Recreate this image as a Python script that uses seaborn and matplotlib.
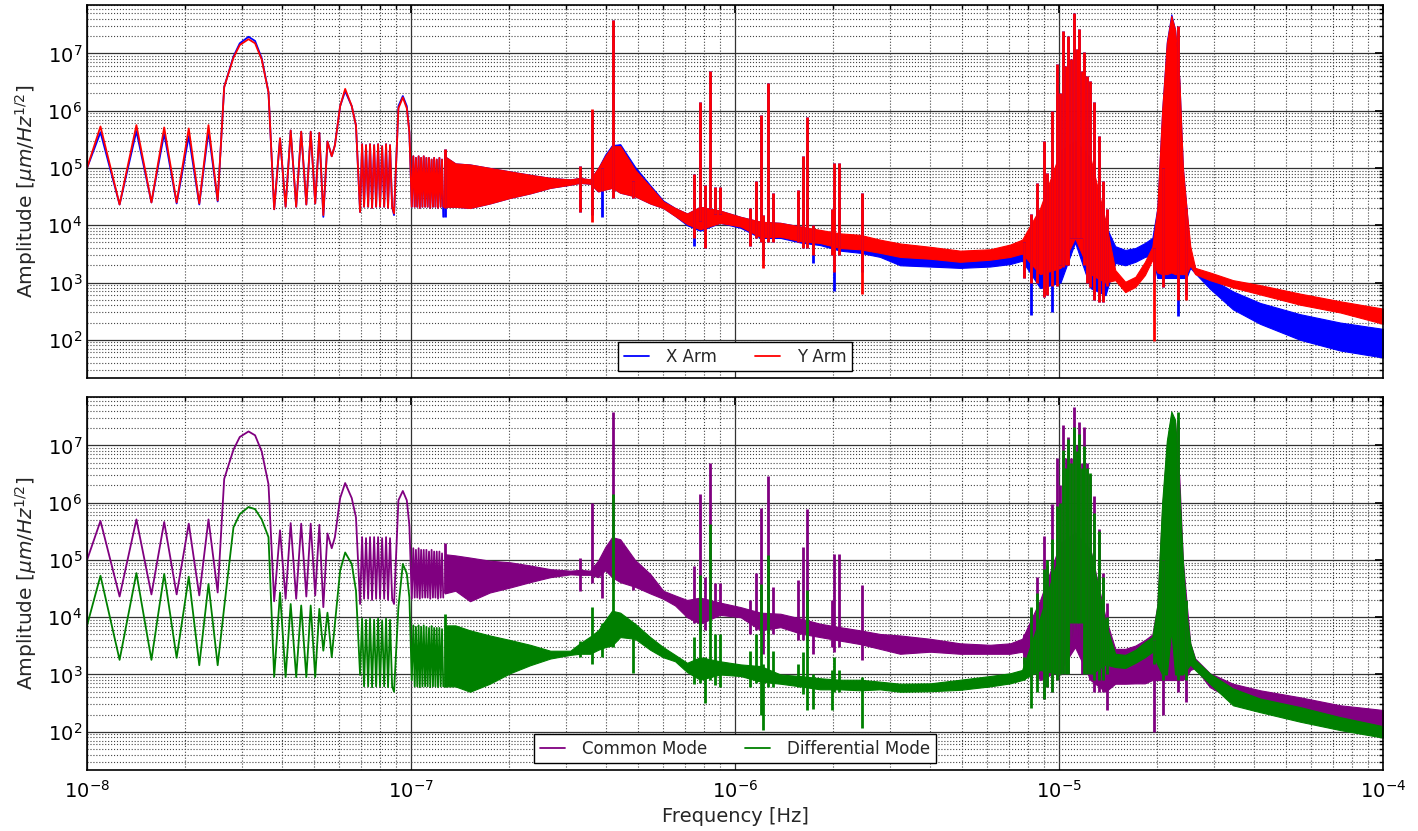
import numpy as np
import matplotlib
matplotlib.use("Agg")
import matplotlib.pyplot as plt
import seaborn as sns
from matplotlib.ticker import LogLocator, NullFormatter, FixedLocator

# ---- low-frequency part: clean line traces, shared frequency grid [Hz]
f_low = [1.00e-8, 1.10e-8, 1.26e-8, 1.42e-8, 1.58e-8, 1.73e-8, 1.89e-8, 2.06e-8, 2.22e-8, 2.37e-8,
         2.53e-8, 2.65e-8, 2.83e-8, 2.96e-8, 3.15e-8, 3.30e-8, 3.46e-8, 3.63e-8, 3.78e-8, 3.94e-8,
         4.10e-8, 4.25e-8, 4.42e-8, 4.58e-8, 4.75e-8, 4.90e-8, 5.06e-8, 5.21e-8, 5.36e-8, 5.52e-8,
         5.69e-8, 5.82e-8, 6.04e-8, 6.26e-8, 6.56e-8, 6.76e-8, 6.96e-8, 7.06e-8, 7.16e-8, 7.26e-8,
         7.37e-8, 7.47e-8, 7.58e-8, 7.69e-8, 7.80e-8, 7.91e-8, 8.02e-8, 8.14e-8, 8.26e-8, 8.37e-8,
         8.49e-8, 8.61e-8, 8.74e-8, 8.86e-8, 9.14e-8, 9.43e-8, 9.70e-8, 9.88e-8, 1.005e-7, 1.016e-7,
         1.026e-7, 1.035e-7, 1.045e-7, 1.055e-7, 1.064e-7, 1.074e-7, 1.084e-7, 1.094e-7, 1.105e-7, 1.115e-7,
         1.125e-7, 1.136e-7, 1.146e-7, 1.157e-7, 1.168e-7, 1.178e-7, 1.189e-7, 1.200e-7, 1.211e-7, 1.223e-7,
         1.234e-7, 1.246e-7, 1.257e-7]

xarm_low = [1.0e5, 4.2e5, 2.3e4, 4.4e5, 2.5e4, 4.0e5, 2.4e4, 3.6e5, 2.3e4, 4.4e5,
            2.6e4, 2.6e6, 8.8e6, 1.5e7, 1.95e7, 1.65e7, 8.2e6, 2.1e6, 1.9e4, 3.3e5,
            2.1e4, 4.5e5, 2.1e4, 4.3e5, 2.3e4, 4.3e5, 2.4e4, 4.1e5, 1.4e4, 2.9e5,
            1.6e5, 2.5e5, 1.2e6, 2.2e6, 1.2e6, 5.5e5, 1.7e4, 2.6e5, 2.1e4, 2.5e5,
            2.1e4, 2.6e5, 2.0e4, 2.5e5, 2.1e4, 2.6e5, 2.1e4, 2.4e5, 2.1e4, 2.6e5,
            2.0e4, 2.5e5, 2.1e4, 1.5e4, 1.2e6, 1.8e6, 1.2e6, 4.2e5, 2.1e4, 1.6e5,
            2.1e4, 1.5e5, 2.1e4, 1.6e5, 2.0e4, 1.5e5, 2.1e4, 1.6e5, 2.1e4, 1.5e5,
            2.1e4, 1.5e5, 2.0e4, 1.4e5, 2.1e4, 1.5e5, 2.1e4, 1.4e5, 2.0e4, 1.5e5,
            2.1e4, 1.4e5, 1.4e4]
yarm_low = [1.0e5, 5.3e5, 2.3e4, 5.6e5, 2.5e4, 5.1e5, 2.5e4, 4.9e5, 2.4e4, 5.6e5,
            2.7e4, 2.6e6, 8.4e6, 1.4e7, 1.77e7, 1.5e7, 7.8e6, 2.1e6, 1.9e4, 3.3e5,
            2.1e4, 4.5e5, 2.1e4, 4.3e5, 2.3e4, 4.3e5, 2.4e4, 4.1e5, 1.5e4, 2.9e5,
            1.6e5, 2.5e5, 1.2e6, 2.4e6, 1.2e6, 5.5e5, 1.7e4, 2.6e5, 2.1e4, 2.5e5,
            2.1e4, 2.6e5, 2.0e4, 2.5e5, 2.1e4, 2.6e5, 2.1e4, 2.4e5, 2.1e4, 2.6e5,
            2.0e4, 2.5e5, 2.1e4, 1.6e4, 1.1e6, 1.7e6, 1.1e6, 4.2e5, 2.1e4, 1.6e5,
            2.1e4, 1.5e5, 2.1e4, 1.6e5, 2.0e4, 1.5e5, 2.1e4, 1.6e5, 2.1e4, 1.5e5,
            2.1e4, 1.5e5, 2.0e4, 1.4e5, 2.1e4, 1.5e5, 2.1e4, 1.4e5, 2.0e4, 1.5e5,
            2.1e4, 1.4e5, 2.1e4]
cm_low = [1.0e5, 4.8e5, 2.3e4, 5.1e5, 2.5e4, 4.6e5, 2.5e4, 4.3e5, 2.4e4, 5.1e5,
          2.7e4, 2.6e6, 8.4e6, 1.4e7, 1.75e7, 1.5e7, 7.8e6, 2.1e6, 1.9e4, 3.3e5,
          2.1e4, 4.4e5, 2.1e4, 4.3e5, 2.3e4, 4.3e5, 2.4e4, 4.1e5, 1.5e4, 2.9e5,
          1.6e5, 2.5e5, 1.2e6, 2.2e6, 1.2e6, 5.5e5, 1.7e4, 2.5e5, 2.1e4, 2.4e5,
          2.1e4, 2.5e5, 2.0e4, 2.5e5, 2.1e4, 2.5e5, 2.1e4, 2.4e5, 2.1e4, 2.5e5,
          2.0e4, 2.4e5, 2.1e4, 1.7e4, 1.1e6, 1.6e6, 1.1e6, 4.0e5, 2.1e4, 1.6e5,
          2.2e4, 1.5e5, 2.2e4, 1.6e5, 2.1e4, 1.5e5, 2.2e4, 1.5e5, 2.2e4, 1.5e5,
          2.2e4, 1.4e5, 2.1e4, 1.5e5, 2.2e4, 1.4e5, 2.2e4, 1.4e5, 2.1e4, 1.4e5,
          2.2e4, 1.3e5, 2.2e4]
dm_low = [7.2e3, 5.3e4, 1.8e3, 5.9e4, 1.8e3, 5.7e4, 1.95e3, 5.1e4, 1.45e3, 3.8e4,
          1.45e3, 1.5e4, 3.7e5, 6.3e5, 8.4e5, 7.7e5, 5.1e5, 2.5e5, 9.1e2, 2.7e4,
          9.0e2, 1.7e4, 9.0e2, 1.6e4, 9.0e2, 1.6e4, 9.0e2, 1.4e4, 2.6e3, 1.2e4,
          2.0e3, 7.7e3, 6.5e4, 1.35e5, 8.5e4, 2.9e4, 9.8e2, 9.4e3, 6.2e2, 9.0e3,
          6.2e2, 9.4e3, 6.0e2, 9.0e3, 6.2e2, 9.4e3, 6.2e2, 8.8e3, 6.2e2, 9.4e3,
          6.0e2, 9.0e3, 6.2e2, 5.0e2, 1.5e4, 8.5e4, 5.8e4, 2.2e4, 8.0e2, 7.2e3,
          6.2e2, 6.8e3, 6.2e2, 7.2e3, 6.0e2, 6.8e3, 6.2e2, 7.2e3, 6.2e2, 6.8e3,
          6.2e2, 6.5e3, 6.0e2, 7.0e3, 6.2e2, 6.5e3, 6.2e2, 6.5e3, 6.0e2, 6.5e3,
          6.2e2, 6.2e3, 6.2e2]

# ---- dense part: upper / lower envelope of the oscillating spectrum
f_band = [1.27e-7, 1.37e-7, 1.52e-7, 1.75e-7, 2.02e-7, 2.33e-7, 2.69e-7, 3.10e-7, 3.32e-7, 3.57e-7,
          3.78e-7, 3.97e-7, 4.17e-7, 4.42e-7, 4.91e-7, 5.47e-7, 6.00e-7, 6.53e-7, 7.11e-7, 7.80e-7,
          8.99e-7, 1.04e-6, 1.20e-6, 1.38e-6, 1.59e-6, 1.83e-6, 2.11e-6, 2.43e-6, 2.80e-6, 3.23e-6,
          4.00e-6, 4.95e-6, 6.12e-6, 7.06e-6, 7.69e-6, 8.74e-6, 1.01e-5, 1.12e-5, 1.25e-5, 1.39e-5,
          1.49e-5, 1.60e-5, 1.72e-5, 1.84e-5, 1.94e-5, 2.01e-5, 2.08e-5, 2.15e-5, 2.22e-5, 2.28e-5,
          2.35e-5, 2.41e-5, 2.47e-5, 2.54e-5, 2.63e-5, 2.92e-5, 3.44e-5, 4.17e-5, 5.54e-5, 7.37e-5,
          1.00e-4]

xarm_hi = [1.6e5, 1.2e5, 1.15e5, 1.0e5, 8.7e4, 7.6e4, 6.7e4, 6.3e4, 6.7e4, 6.3e4,
           1.0e5, 1.7e5, 2.5e5, 2.6e5, 1.05e5, 5.0e4, 2.7e4, 2.0e4, 1.6e4, 2.1e4,
           1.8e4, 1.4e4, 1.15e4, 1.1e4, 9.5e3, 8.0e3, 6.8e3, 6.4e3, 5.3e3, 4.0e3,
           3.6e3, 2.8e3, 2.9e3, 3.4e3, 4.0e3, 1.8e4, 1.6e5, 2.5e5, 1.2e5, 1.0e4,
           4.3e3, 3.7e3, 4.0e3, 4.9e3, 6.0e3, 2.0e4, 1.0e6, 1.6e7, 4.8e7, 2.6e7,
           3.5e6, 1.0e5, 2.1e4, 3.0e3, 1.8e3, 1.2e3, 7.0e2, 4.4e2, 2.8e2, 2.0e2,
           1.55e2]
xarm_lo = [2.1e4, 2.1e4, 2.0e4, 2.4e4, 3.0e4, 3.6e4, 4.5e4, 5.1e4, 5.5e4, 5.3e4,
           3.9e4, 4.2e4, 4.5e4, 3.7e4, 3.2e4, 2.4e4, 2.0e4, 1.45e4, 1.0e4, 8.0e3,
           1.1e4, 9.0e3, 6.0e3, 6.0e3, 5.0e3, 4.5e3, 3.6e3, 3.3e3, 2.8e3, 2.0e3,
           1.9e3, 1.8e3, 1.9e3, 2.1e3, 2.4e3, 8.0e2, 1.0e3, 5.0e3, 8.0e2, 6.0e2,
           2.2e3, 2.0e3, 2.3e3, 2.8e3, 3.0e3, 1.2e3, 1.2e3, 1.2e3, 1.2e3, 1.2e3,
           1.2e3, 1.2e3, 1.2e3, 1.8e3, 1.45e3, 7.8e2, 3.4e2, 1.9e2, 1.0e2, 6.5e1,
           4.9e1]
yarm_hi = [1.6e5, 1.2e5, 1.15e5, 1.0e5, 8.7e4, 7.6e4, 6.7e4, 6.3e4, 6.7e4, 6.3e4,
           1.0e5, 1.6e5, 2.4e5, 2.4e5, 9.3e4, 4.7e4, 2.6e4, 2.0e4, 1.6e4, 2.1e4,
           1.8e4, 1.4e4, 1.15e4, 1.1e4, 9.5e3, 8.3e3, 7.2e3, 6.8e3, 5.6e3, 4.8e3,
           4.2e3, 3.6e3, 3.8e3, 4.6e3, 5.6e3, 2.0e4, 2.0e5, 3.0e5, 1.5e5, 1.2e4,
           1.65e3, 1.03e3, 1.26e3, 2.3e3, 4.2e3, 2.0e4, 1.0e6, 1.5e7, 4.5e7, 2.6e7,
           3.5e6, 1.0e5, 2.1e4, 4.3e3, 1.8e3, 1.5e3, 1.1e3, 9.0e2, 6.4e2, 4.7e2,
           3.5e2]
yarm_lo = [2.1e4, 2.1e4, 2.0e4, 2.4e4, 3.0e4, 3.6e4, 4.5e4, 5.1e4, 5.5e4, 5.3e4,
           3.9e4, 4.2e4, 4.5e4, 3.7e4, 3.2e4, 2.4e4, 2.0e4, 1.45e4, 1.05e4, 8.5e3,
           1.1e4, 9.5e3, 6.2e3, 6.3e3, 5.3e3, 4.9e3, 4.0e3, 3.8e3, 3.3e3, 2.8e3,
           2.6e3, 2.3e3, 2.5e3, 2.8e3, 3.2e3, 1.4e3, 1.8e3, 6.0e3, 1.4e3, 1.0e3,
           1.1e3, 6.8e2, 8.4e2, 1.35e3, 2.5e3, 1.5e3, 1.4e3, 1.4e3, 1.5e3, 1.4e3,
           1.4e3, 1.4e3, 1.4e3, 2.0e3, 1.4e3, 1.1e3, 8.2e2, 6.2e2, 4.1e2, 3.0e2,
           1.9e2]
cm_hi = [1.26e5, 1.2e5, 1.1e5, 9.7e4, 9.1e4, 8.0e4, 6.9e4, 6.5e4, 6.7e4, 6.5e4,
         9.8e4, 1.66e5, 2.5e5, 2.3e5, 1.0e5, 5.7e4, 2.9e4, 2.4e4, 2.0e4, 2.2e4,
         1.8e4, 1.5e4, 1.2e4, 1.15e4, 9.5e3, 7.7e3, 6.7e3, 5.9e3, 5.1e3, 4.8e3,
         4.2e3, 3.5e3, 3.3e3, 3.5e3, 4.2e3, 2.0e4, 2.0e5, 3.0e5, 1.5e5, 1.0e4,
         2.8e3, 2.8e3, 3.2e3, 4.0e3, 5.0e3, 1.6e4, 8.0e5, 1.0e7, 3.5e7, 2.5e7,
         2.7e6, 1.0e5, 2.0e4, 3.5e3, 1.9e3, 1.05e3, 6.9e2, 5.3e2, 4.0e2, 2.9e2,
         2.4e2]
cm_lo = [2.6e4, 2.9e4, 1.9e4, 2.7e4, 3.3e4, 4.1e4, 5.0e4, 5.6e4, 5.5e4, 5.5e4,
         5.0e4, 6.6e4, 5.0e4, 4.1e4, 3.4e4, 2.6e4, 2.1e4, 1.6e4, 1.0e4, 7.7e3,
         1.1e4, 1.0e4, 5.9e3, 6.7e3, 5.2e3, 4.5e3, 3.9e3, 3.4e3, 2.8e3, 2.3e3,
         2.5e3, 2.3e3, 2.3e3, 2.3e3, 2.5e3, 8.0e2, 1.2e3, 3.0e3, 8.0e2, 5.0e2,
         6.9e2, 6.9e2, 7.0e2, 7.0e2, 8.0e2, 8.0e2, 8.0e2, 8.0e2, 8.0e2, 8.0e2,
         8.0e2, 8.0e2, 9.0e2, 1.2e3, 1.3e3, 6.0e2, 3.6e2, 2.5e2, 1.8e2, 1.2e2,
         1.05e2]
dm_hi = [7.2e3, 7.2e3, 5.9e3, 4.8e3, 4.0e3, 3.3e3, 2.6e3, 2.6e3, 3.5e3, 4.6e3,
         5.9e3, 8.8e3, 1.3e4, 1.2e4, 7.7e3, 4.5e3, 3.0e3, 2.2e3, 1.6e3, 2.0e3,
         1.7e3, 1.5e3, 1.4e3, 1.0e3, 9.4e2, 8.6e2, 8.1e2, 8.1e2, 7.5e2, 6.9e2,
         7.0e2, 8.1e2, 9.4e2, 1.05e3, 1.2e3, 1.0e4, 1.5e5, 3.0e5, 1.5e5, 8.0e3,
         2.3e3, 2.2e3, 2.7e3, 3.7e3, 4.5e3, 1.6e4, 1.0e6, 1.2e7, 3.9e7, 2.8e7,
         1.7e6, 9.0e4, 1.2e4, 3.5e3, 1.8e3, 1.04e3, 5.7e2, 3.8e2, 2.7e2, 1.8e2,
         1.25e2]
dm_lo = [6.2e2, 6.2e2, 5.0e2, 6.9e2, 1.05e3, 1.45e3, 1.9e3, 2.2e3, 2.3e3, 2.3e3,
         2.7e3, 3.0e3, 3.2e3, 4.5e3, 4.2e3, 2.7e3, 2.0e3, 1.7e3, 1.1e3, 8.1e2,
         1.0e3, 9.4e2, 7.5e2, 6.9e2, 6.2e2, 5.5e2, 5.5e2, 5.3e2, 5.5e2, 5.0e2,
         5.1e2, 5.4e2, 6.2e2, 7.0e2, 8.0e2, 1.2e3, 1.0e3, 8.0e3, 1.0e3, 1.5e3,
         1.35e3, 1.3e3, 1.6e3, 2.0e3, 2.5e3, 1.5e3, 1.0e3, 1.0e3, 6.0e3, 1.0e3,
         1.0e3, 1.0e3, 1.2e3, 1.5e3, 1.2e3, 6.9e2, 2.9e2, 2.2e2, 1.5e2, 1.07e2,
         7.9e1]

# ---- narrow spectral lines: (frequency, top, bottom)
spike_f = [1.273e-7, 3.31e-7, 3.62e-7, 3.89e-7, 4.20e-7, 4.84e-7, 7.47e-7, 7.80e-7, 8.08e-7, 8.37e-7,
           8.68e-7, 8.99e-7, 1.113e-6, 1.161e-6, 1.203e-6, 1.220e-6, 1.264e-6, 1.310e-6, 1.565e-6, 1.622e-6,
           1.668e-6, 1.741e-6, 1.993e-6, 2.02e-6, 2.094e-6, 2.466e-6, 7.80e-6, 8.20e-6, 8.55e-6, 8.99e-6,
           9.18e-6, 9.51e-6, 9.86e-6, 1.007e-5, 1.029e-5, 1.048e-5, 1.066e-5, 1.088e-5, 1.112e-5, 1.136e-5,
           1.153e-5, 1.175e-5, 1.195e-5, 1.220e-5, 1.246e-5, 1.282e-5, 1.329e-5, 1.367e-5, 1.407e-5, 1.964e-5,
           2.094e-5, 2.33e-5, 2.47e-5]

xarm_top = [2.1e5, 1.1e5, 1.0e6, 1.0e5, 3.9e7, 6.0e4, 7.7e4, 1.4e6, 5.0e4, 4.9e6,
            4.7e4, 4.7e4, 2.0e4, 5.8e4, 8.5e5, 1.5e4, 3.1e6, 3.7e4, 4.2e4, 1.6e5,
            7.6e5, 1.0e4, 1.9e4, 1.2e5, 1.2e5, 3.7e4, 5.0e3, 1.6e4, 5.5e4, 2.9e5,
            8.2e4, 1.0e6, 6.5e6, 2.0e6, 2.5e7, 6.0e6, 2.0e7, 8.0e6, 5.0e7, 1.2e7,
            2.7e7, 5.0e6, 1.05e7, 4.0e6, 3.3e6, 1.4e6, 3.6e5, 5.9e4, 1.9e4, 4.0e3,
            1.0e5, 3.0e7, 2.0e4]
xarm_bot = [1.4e4, 1.7e4, 1.5e4, 1.4e4, 3.0e4, 3.0e4, 4.3e3, 1.2e4, 4.0e3, 2.0e4,
            1.6e4, 1.6e4, 4.3e3, 6.0e3, 5.0e3, 2.5e3, 5.0e3, 5.0e3, 5.0e3, 4.0e3,
            4.0e3, 2.2e3, 3.0e3, 7.0e2, 3.0e3, 1.5e3, 1.2e3, 2.7e2, 1.0e3, 5.6e2,
            6.0e2, 3.1e2, 8.6e2, 2.0e3, 1.9e3, 2.0e3, 2.0e3, 6.0e3, 6.0e3, 6.0e3,
            6.0e3, 6.0e3, 2.0e3, 1.0e3, 8.4e2, 4.9e2, 4.6e2, 4.6e2, 8.6e2, 1.0e3,
            8.5e2, 2.6e2, 6.0e2]
yarm_top = [2.1e5, 1.1e5, 1.05e6, 1.0e5, 3.9e7, 6.0e4, 7.7e4, 1.4e6, 5.0e4, 4.9e6,
            4.7e4, 4.7e4, 2.0e4, 5.8e4, 8.5e5, 1.5e4, 3.1e6, 3.7e4, 4.2e4, 1.6e5,
            7.6e5, 1.0e4, 1.9e4, 1.2e5, 1.2e5, 3.7e4, 5.0e3, 1.6e4, 5.5e4, 2.9e5,
            8.2e4, 1.0e6, 6.5e6, 2.0e6, 2.5e7, 6.0e6, 2.0e7, 8.0e6, 5.1e7, 1.2e7,
            2.7e7, 5.0e6, 1.05e7, 4.0e6, 3.3e6, 1.4e6, 3.6e5, 5.9e4, 1.9e4, 4.0e3,
            1.0e5, 3.0e7, 2.0e4]
yarm_bot = [2.0e4, 1.7e4, 1.15e4, 4.0e4, 3.0e4, 3.0e4, 6.0e3, 1.2e4, 4.0e3, 2.0e4,
            1.6e4, 1.6e4, 4.3e3, 6.0e3, 5.0e3, 1.8e3, 5.0e3, 5.0e3, 5.0e3, 4.0e3,
            4.0e3, 3.0e3, 3.0e3, 1.5e3, 3.0e3, 6.2e2, 1.2e3, 1.0e3, 1.0e3, 5.6e2,
            6.0e2, 8.6e2, 8.6e2, 2.0e3, 1.9e3, 2.0e3, 2.0e3, 6.0e3, 6.0e3, 6.0e3,
            6.0e3, 6.0e3, 2.0e3, 1.0e3, 8.4e2, 4.9e2, 4.6e2, 4.6e2, 8.6e2, 9.6e1,
            8.5e2, 5.0e2, 4.9e2]
cm_top = [2.0e5, 1.1e5, 1.0e6, 9.0e4, 3.9e7, 9.0e4, 7.7e4, 1.4e6, 5.0e4, 4.9e6,
          3.9e4, 3.9e4, 2.0e4, 6.0e4, 8.2e5, 1.2e4, 2.9e6, 3.4e4, 4.4e4, 1.65e5,
          7.6e5, 8.0e3, 2.0e4, 1.27e5, 1.27e5, 3.6e4, 5.0e3, 1.4e4, 5.0e4, 2.6e5,
          8.0e4, 9.4e5, 6.0e6, 2.0e6, 2.3e7, 6.0e6, 1.4e7, 6.0e6, 4.7e7, 1.0e7,
          2.6e7, 5.0e6, 2.1e7, 5.0e6, 3.1e6, 1.3e6, 3.5e5, 6.0e4, 1.8e4, 4.0e3,
          1.0e5, 2.8e7, 2.0e4]
cm_bot = [2.6e4, 2.9e4, 4.0e4, 2.2e4, 4.0e4, 3.0e4, 8.0e3, 5.8e3, 6.0e3, 1.5e4,
          1.5e4, 1.5e4, 5.1e3, 6.0e3, 5.0e3, 2.3e3, 5.0e3, 5.0e3, 4.0e3, 4.0e3,
          4.0e3, 2.3e3, 3.0e3, 2.5e3, 3.0e3, 1.8e3, 1.5e3, 8.0e2, 8.0e2, 3.8e2,
          6.0e2, 5.0e2, 8.0e2, 1.0e3, 1.0e3, 1.0e3, 1.0e3, 3.0e3, 3.0e3, 3.0e3,
          3.0e3, 1.0e3, 1.0e3, 1.0e3, 8.0e2, 5.0e2, 5.0e2, 5.0e2, 2.4e2, 1.0e2,
          2.0e2, 5.0e2, 3.3e2]
dm_top = [1.15e4, 3.8e3, 1.5e4, 8.0e3, 1.4e6, 6.0e3, 4.6e3, 5.4e4, 2.0e3, 4.2e5,
          5.0e3, 5.0e3, 2.6e3, 5.0e3, 3.8e4, 1.5e3, 1.2e5, 2.6e3, 1.5e3, 2.5e3,
          3.0e4, 1.0e3, 1.2e3, 2.0e3, 1.2e3, 9.0e2, 2.0e3, 1.5e4, 2.7e4, 6.9e4,
          9.8e4, 2.3e5, 8.7e5, 1.0e6, 8.4e6, 4.0e6, 1.3e7, 5.0e6, 2.1e7, 8.0e6,
          1.6e7, 4.0e6, 9.6e6, 4.0e6, 3.3e6, 6.7e5, 3.2e5, 5.0e4, 1.0e4, 4.0e3,
          1.0e5, 3.9e7, 2.0e4]
dm_bot = [6.0e2, 2.0e3, 1.5e3, 2.0e3, 3.0e3, 1.05e3, 6.9e2, 7.0e2, 3.2e2, 8.0e2,
          6.5e2, 6.0e2, 6.0e2, 7.0e2, 2.0e2, 1.07e2, 6.0e2, 6.0e2, 6.0e2, 4.5e2,
          2.4e2, 2.5e2, 2.4e2, 5.0e2, 5.0e2, 1.15e2, 8.0e2, 2.6e2, 5.0e2, 3.8e2,
          6.0e2, 5.0e2, 8.0e2, 1.0e3, 1.0e3, 1.0e3, 1.0e3, 8.0e3, 8.0e3, 8.0e3,
          8.0e3, 8.0e3, 1.0e3, 1.0e3, 1.0e3, 8.0e2, 8.0e2, 8.0e2, 1.0e3, 1.5e3,
          8.0e2, 8.0e2, 8.0e2]

# axis ticks shown in the chart
x_ticks = [1e-8, 1e-7, 1e-6, 1e-5, 1e-4]
y_ticks = [1e2, 1e3, 1e4, 1e5, 1e6, 1e7]

sns.set_theme(style="white")
plt.rcParams["font.family"] = ["DejaVu Sans"]
plt.rcParams["mathtext.fontset"] = "dejavusans"

fig = plt.figure(figsize=(14.18, 8.31), dpi=100)
ax_top = fig.add_axes([0.0614, 0.5451, 0.9140, 0.4489])
ax_bot = fig.add_axes([0.0614, 0.0734, 0.9140, 0.4489])

for ax in (ax_top, ax_bot):
    ax.set_xscale("log")
    ax.set_yscale("log")


def draw_series(ax, color, label, low, hi, lo, top, bot):
    ax.fill_between(f_band, lo, hi, color=color, lw=0.8)
    ax.vlines(spike_f, bot, top, color=color, lw=2.0)
    sns.lineplot(x=f_low, y=low, ax=ax, color=color, lw=1.3, label=label,
                 sort=False, estimator=None)


draw_series(ax_top, "#0000ff", "X Arm", xarm_low, xarm_hi, xarm_lo, xarm_top, xarm_bot)
draw_series(ax_top, "#ff0000", "Y Arm", yarm_low, yarm_hi, yarm_lo, yarm_top, yarm_bot)
draw_series(ax_bot, "#800080", "Common Mode", cm_low, cm_hi, cm_lo, cm_top, cm_bot)
draw_series(ax_bot, "#008000", "Differential Mode", dm_low, dm_hi, dm_lo, dm_top, dm_bot)

for ax in (ax_top, ax_bot):
    ax.set_xlim(1e-8, 1e-4)
    ax.set_ylim(2.15e1, 7.0e7)
    ax.xaxis.set_major_locator(FixedLocator(x_ticks))
    ax.xaxis.set_minor_locator(LogLocator(base=10, subs=np.arange(2, 10), numticks=60))
    ax.yaxis.set_major_locator(FixedLocator(y_ticks))
    ax.yaxis.set_minor_locator(LogLocator(base=10, subs=np.arange(2, 10), numticks=60))
    ax.yaxis.set_minor_formatter(NullFormatter())
    ax.xaxis.set_minor_formatter(NullFormatter())
    ax.set_axisbelow(True)
    ax.grid(which="major", color="#333333", ls="-", lw=0.9)
    ax.grid(which="minor", color="#444444", ls=":", lw=0.8)
    ax.tick_params(which="both", direction="in", top=True, right=True, colors="black")
    ax.tick_params(which="major", length=6, labelsize=14)
    ax.tick_params(which="minor", length=3)
    ax.tick_params(axis="x", which="major", pad=7)
    for s in ax.spines.values():
        s.set_color("black")
        s.set_linewidth(1.2)
    ax.set_ylabel(r"Amplitude [$\mu m/Hz^{1/2}$]", fontsize=14.5, labelpad=6)
    ax.legend(loc="lower center", ncol=2, fontsize=12, frameon=True, fancybox=False,
              edgecolor="black", framealpha=1, columnspacing=2.3, handlelength=1.5,
              handletextpad=1.0, borderpad=0.35, borderaxespad=0.4)

ax_top.tick_params(labelbottom=False)
ax_top.set_xlabel("")
ax_bot.set_xlabel("Frequency [Hz]", fontsize=14, labelpad=4)

fig.savefig("out.png", dpi=100, facecolor="white")
